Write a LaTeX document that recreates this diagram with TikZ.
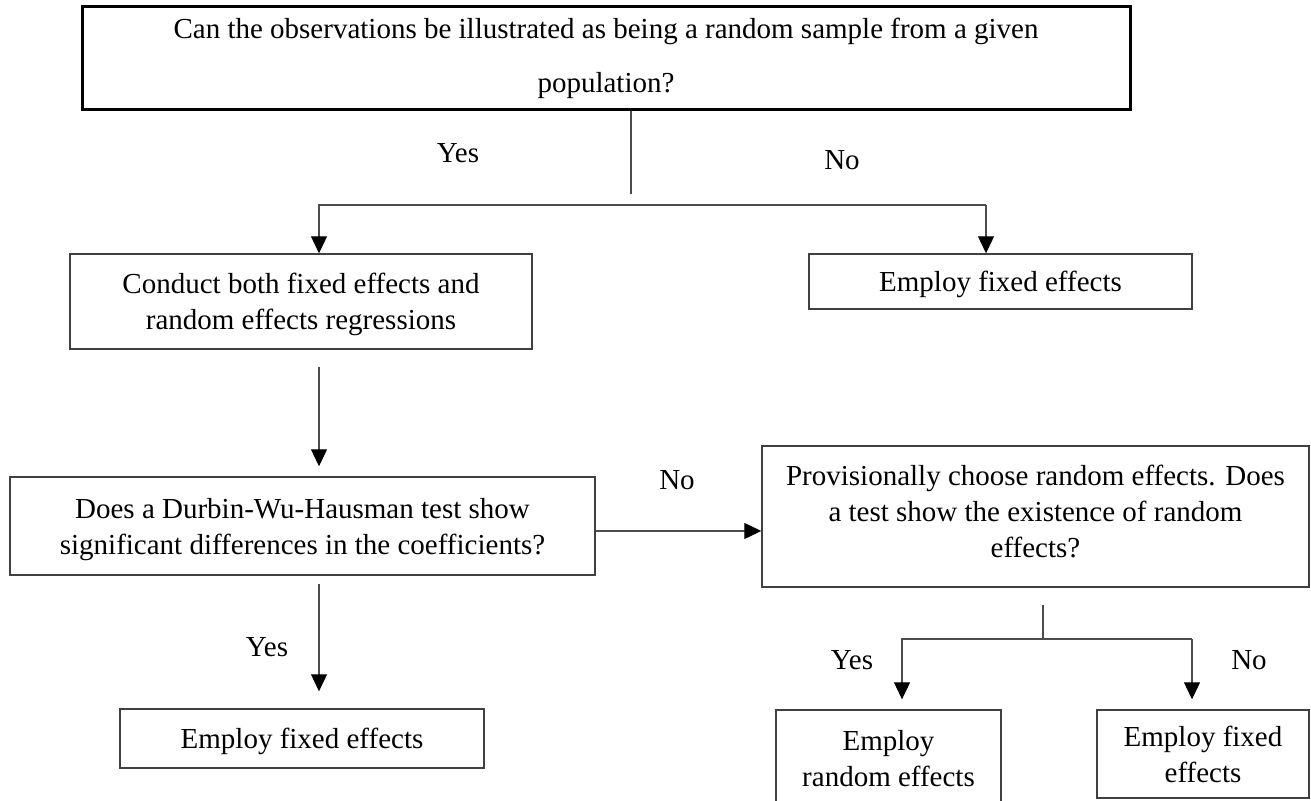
\documentclass[tikz,border=0pt]{standalone}
\usepackage{fontspec}
\setmainfont{Liberation Serif}
\usetikzlibrary{arrows.meta}

\tikzset{
    box/.style={draw=black!75, line width=0.7pt, inner sep=0pt, align=center,
        text depth=0pt, font=\fontsize{14.5}{18}\selectfont},
    qbox/.style={box, draw=black, line width=1.5pt, text depth=3pt,
        font=\fontsize{14.5}{27}\selectfont},
    conn/.style={draw=black!70, line width=0.55pt},
    arr/.style={conn, -{Triangle[width=8pt,length=8.5pt,color=black]}},
    lbl/.style={inner sep=0pt, font=\fontsize{14.5}{18}\selectfont}
}

\begin{document}
\begin{tikzpicture}[x=0.5pt, y=-0.5pt]
    \useasboundingbox (0,0) rectangle (1311,801);

    % Boxes
    \node[qbox, minimum width=1048*0.5pt, minimum height=103*0.5pt] (q1) at (606,58.5)
        {Can the observations be illustrated as being a random sample from a given\\population?};
    \node[box, minimum width=462*0.5pt, minimum height=95*0.5pt] (conduct) at (301,301.5)
        {Conduct both fixed effects and\\random effects regressions};
    \node[box, minimum width=383*0.5pt, minimum height=55*0.5pt] (fixedA) at (1000.5,281.5)
        {Employ fixed effects};
    \node[box, minimum width=585*0.5pt, minimum height=98*0.5pt] (durbin) at (302.5,526)
        {Does a Durbin-Wu-Hausman test show\\significant differences in the coefficients?};
    \node[box, minimum width=547*0.5pt, minimum height=141*0.5pt, text depth=5pt] (provis) at (1035.5,516.5)
        {Provisionally choose random effects. Does\\a test show the existence of random\\effects?};
    \node[box, minimum width=364*0.5pt, minimum height=59*0.5pt] (fixedB) at (302,738.5)
        {Employ fixed effects};
    \node[box, minimum width=225*0.5pt, minimum height=96*0.5pt] (randomC) at (888.5,758)
        {Employ\\random effects};
    \node[box, minimum width=212*0.5pt, minimum height=88*0.5pt] (fixedC) at (1203,754)
        {Employ fixed\\effects};

    % Labels
    \node[lbl] (yes1) at (458,153) {Yes};
    \node[lbl] (no1) at (842,160) {No};
    \node[lbl] (no2) at (677,480) {No};
    \node[lbl] (yes2) at (267,647) {Yes};
    \node[lbl] (yes3) at (852,660) {Yes};
    \node[lbl] (no3) at (1249,660) {No};

    % Fork points
    \coordinate (stem1) at (631,194);
    \coordinate (forkL) at (319,205);
    \coordinate (forkR) at (986,205);
    \coordinate (noRow) at (680,531);
    \coordinate (stem2) at (1043,639);
    \coordinate (fork2L) at (902,639);
    \coordinate (fork2R) at (1192,639);

    % Connectors
    \draw[conn] (q1.south -| stem1) -- (stem1);
    \draw[arr] (forkR) -| (conduct.north -| forkL);
    \draw[arr] (forkR) -- (fixedA.north -| forkR);
    \draw[arr, shorten <=8.5pt, shorten >=5pt] (conduct.south -| forkL) -- (durbin.north -| forkL);
    \draw[arr, shorten <=4pt, shorten >=8.5pt] (durbin.south -| forkL) -- (fixedB.north -| forkL);
    \draw[arr] (durbin.east |- noRow) -- (provis.west |- noRow);
    \draw[conn, shorten <=8.5pt] (provis.south -| stem2) -- (stem2);
    \draw[arr, shorten >=5pt] (fork2R) -| (randomC.north -| fork2L);
    \draw[arr, shorten >=5pt] (fork2R) -- (fixedC.north -| fork2R);
\end{tikzpicture}
\end{document}
